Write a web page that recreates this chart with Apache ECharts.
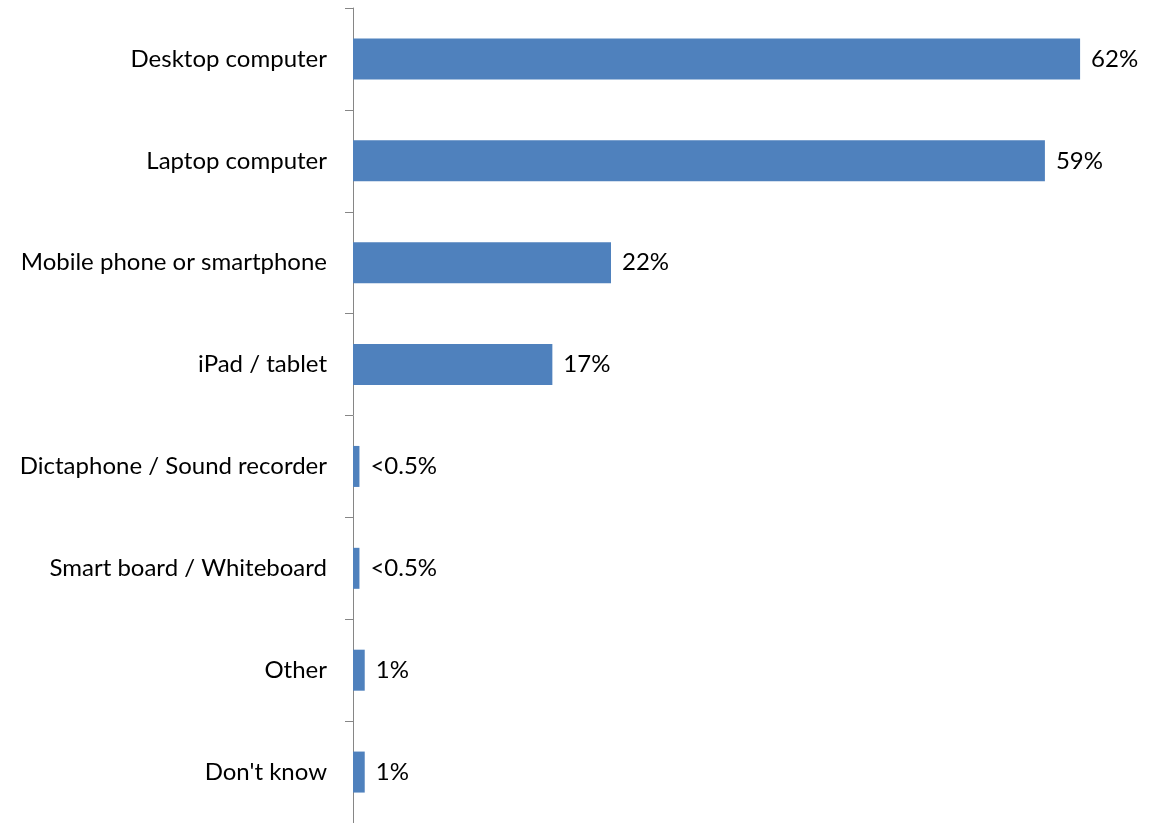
<!DOCTYPE html>
<html><head><meta charset="utf-8">
<script src="https://cdn.jsdelivr.net/npm/echarts@6/dist/echarts.min.js"></script>
<style>html,body{margin:0;padding:0;background:#fff}#c{width:1149px;height:823px}</style>
</head><body><div id="c"></div>
<script>
const categories = ["Desktop computer","Laptop computer","Mobile phone or smartphone","iPad / tablet","Dictaphone / Sound recorder","Smart board / Whiteboard","Other","Don't know"];
const values = [62, 59, 22, 17, 0.55, 0.55, 1, 1];
const valueLabels = ["62%","59%","22%","17%","<0.5%","<0.5%","1%","1%"];

const chart = echarts.init(document.getElementById('c'), null, {renderer:'canvas'});
chart.setOption({
  animation:false,
  backgroundColor:'#ffffff',
  grid:{left:353, top:8, width:774, height:816, containLabel:false},
  xAxis:{type:'value', min:0, max:66, show:false},
  yAxis:{type:'category', inverse:true, data:categories,
    axisLine:{show:true, lineStyle:{color:'#868686', width:1}},
    axisTick:{show:true, length:8, lineStyle:{color:'#868686'}},
    axisLabel:{margin:26, color:'#000', fontFamily:'Lato, "Open Sans", sans-serif', fontSize:24},
    splitLine:{show:false}},
  series:[{type:'bar', data:values, barWidth:41, itemStyle:{color:'#4F81BD'},
    label:{show:true, position:'right', distance:11, color:'#000', fontFamily:'Lato, "Open Sans", sans-serif', fontSize:24,
      formatter:p=>valueLabels[p.dataIndex]}}]
});
</script></body></html>
